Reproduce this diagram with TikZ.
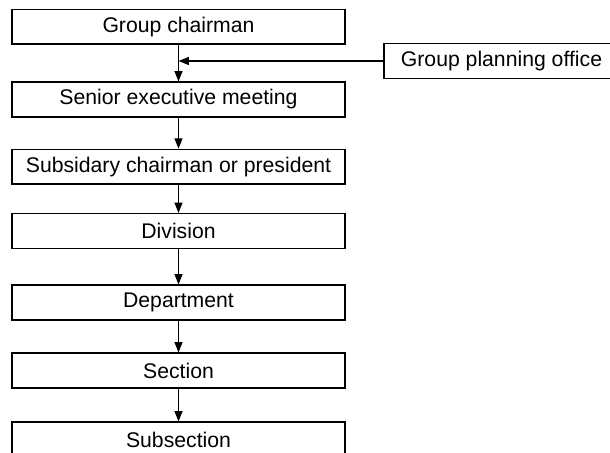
\documentclass[tikz,border=0pt]{standalone}
\usepackage{fontspec}
\setmainfont{Liberation Sans}
\usetikzlibrary{arrows.meta}
\begin{document}
\begin{tikzpicture}[x=0.5pt,y=-0.5pt,
    box/.style={draw,line width=0.65pt,minimum width=166.5pt,minimum height=17.4pt,
      inner sep=0pt,font=\fontsize{10.6}{12}\selectfont}]
      \clip (0,0) rectangle (610,452);
      \draw
        (178.5,26.7) node[box] (chairman){Group chairman}
        (178.5,99.5) node[box] (senior){Senior executive meeting}
        (178.5,166.7) node[box] (subsid){Subsidary chairman or president}
        (178.5,231) node[box] (division){Division}
        (178.5,302.5) node[box] (dept){Department}
        (178.5,370.5) node[box] (section){Section}
        (178.5,439.5) node[box] (subsec){Subsection}
        (501.5,61) node[box,minimum width=117.5pt] (planning){Group planning office};
      \coordinate (join) at (178.5,61);
      \begin{scope}[line width=0.65pt,-{Triangle[length=5.2pt,width=4pt]}]
        \draw (chairman) to (senior);
        \draw (senior) to (subsid);
        \draw (subsid) to (division);
        \draw (division) to (dept);
        \draw (dept) to (section);
        \draw (section) to (subsec);
        \draw (planning) to (join);
      \end{scope}
    \end{tikzpicture}
\end{document}
